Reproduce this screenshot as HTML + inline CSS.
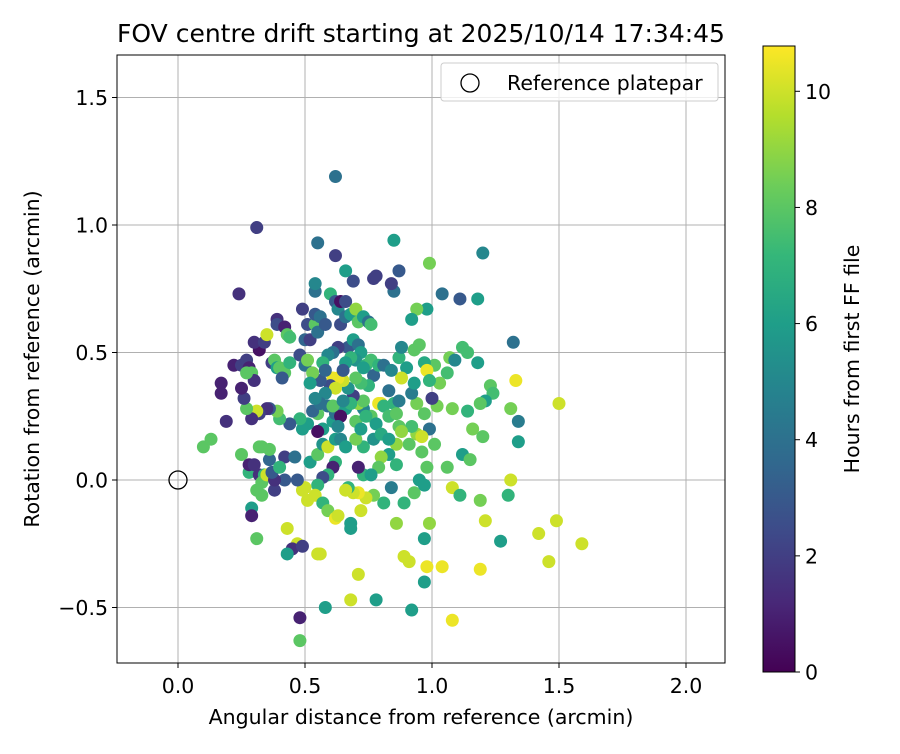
<!DOCTYPE html>
<html><head><meta charset="utf-8"><style>
body{margin:0;background:#fff;font-family:"DejaVu Sans","Liberation Sans",sans-serif}
</style></head><body>
<svg id="chart" width="900" height="750" xmlns="http://www.w3.org/2000/svg" font-family="DejaVu Sans, Liberation Sans, sans-serif">
<defs><linearGradient id="vir" x1="0" y1="1" x2="0" y2="0"></linearGradient></defs>
<text x="421" y="42" font-size="25" text-anchor="middle">FOV centre drift starting at 2025/10/14 17:34:45</text>
<g id="grid"></g>
<g id="pts"></g>
<rect x="117" y="55" width="608" height="608" fill="none" stroke="#000" stroke-width="1"/>
<g id="ticks"></g>
<text x="421" y="724" font-size="20.5" text-anchor="middle">Angular distance from reference (arcmin)</text>
<text transform="translate(39,359) rotate(-90)" font-size="20.5" text-anchor="middle">Rotation from reference (arcmin)</text>
<g>
<rect x="441" y="63" width="277" height="38" rx="3" fill="#fff" fill-opacity="0.8" stroke="#ccc"/>
<circle cx="470" cy="83" r="9" fill="none" stroke="#000" stroke-width="1.3"/>
<text x="507" y="90" font-size="20.5">Reference platepar</text>
</g>
<g id="cbar"></g>
<text transform="translate(859,359) rotate(-90)" font-size="20.5" text-anchor="middle">Hours from first FF file</text>
</svg>
<script>
const xTicks=[0,0.5,1.0,1.5,2.0];
const xTickLabels=["0.0","0.5","1.0","1.5","2.0"];
const yTicks=[-0.5,0,0.5,1.0,1.5];
const yTickLabels=["\u22120.5","0.0","0.5","1.0","1.5"];
const cTicks=[0,2,4,6,8,10];
const cTickLabels=["0","2","4","6","8","10"];
const refPoint=[0,0];
const xs=[0.62,0.31,0.24,0.55,0.62,0.69,0.66,0.77,0.78,0.85,0.87,0.85,0.84,0.99,1.20,1.04,1.11,1.18,0.98,0.94,0.92,1.32,1.12,1.14,1.18,1.23,1.24,1.21,1.19,1.31,1.34,1.33,1.50,1.34,1.12,1.15,1.20,1.16,1.14,1.08,1.06,1.07,1.09,1.01,1.03,1.02,1.00,0.99,1.01,1.06,1.08,1.11,1.19,1.21,1.31,1.30,1.27,1.42,1.49,1.46,1.59,1.19,1.08,1.04,0.98,0.99,0.97,0.97,0.92,0.91,0.89,0.86,0.89,0.93,0.95,0.97,0.98,0.96,0.94,0.92,0.94,0.92,0.93,0.90,0.88,0.87,0.88,0.93,0.95,0.97,0.98,0.99,0.97,0.96,0.91,0.86,0.83,0.80,0.79,0.86,0.84,0.81,0.77,0.74,0.71,0.69,0.67,0.66,0.73,0.76,0.71,0.73,0.70,0.62,0.61,0.59,0.57,0.55,0.54,0.50,0.49,0.51,0.47,0.42,0.42,0.46,0.52,0.55,0.57,0.59,0.62,0.64,0.57,0.59,0.62,0.63,0.68,0.68,0.72,0.71,0.68,0.58,0.55,0.56,0.47,0.45,0.43,0.43,0.48,0.48,0.49,0.78,0.80,0.79,0.76,0.73,0.71,0.73,0.69,0.67,0.65,0.63,0.61,0.60,0.62,0.58,0.59,0.61,0.62,0.61,0.55,0.57,0.55,0.53,0.51,0.49,0.48,0.44,0.40,0.39,0.36,0.35,0.32,0.31,0.29,0.27,0.26,0.19,0.17,0.17,0.22,0.25,0.27,0.28,0.29,0.30,0.32,0.30,0.34,0.35,0.39,0.39,0.42,0.43,0.44,0.37,0.38,0.39,0.40,0.42,0.41,0.44,0.48,0.50,0.51,0.50,0.52,0.51,0.49,0.54,0.54,0.54,0.54,0.56,0.55,0.58,0.60,0.62,0.63,0.64,0.64,0.66,0.66,0.68,0.70,0.71,0.73,0.75,0.76,0.67,0.69,0.71,0.72,0.70,0.68,0.66,0.65,0.63,0.61,0.59,0.57,0.56,0.58,0.56,0.53,0.52,0.54,0.74,0.76,0.77,0.79,0.81,0.84,0.83,0.85,0.87,0.81,0.83,0.86,0.87,0.88,0.75,0.72,0.70,0.73,0.66,0.68,0.70,0.72,0.74,0.78,0.77,0.80,0.83,0.65,0.64,0.63,0.66,0.10,0.13,0.25,0.28,0.29,0.29,0.31,0.33,0.31,0.33,0.32,0.32,0.34,0.33,0.35,0.28,0.27,0.25,0.30,0.36,0.36,0.38,0.38,0.37,0.40];
const ys=[1.19,0.99,0.73,0.93,0.88,0.78,0.82,0.79,0.80,0.94,0.82,0.74,0.77,0.85,0.89,0.73,0.71,0.71,0.67,0.67,0.63,0.54,0.52,0.50,0.46,0.37,0.34,0.31,0.30,0.28,0.23,0.39,0.30,0.15,0.10,0.08,0.17,0.20,0.27,0.28,0.42,0.48,0.47,0.45,0.38,0.29,0.32,0.20,0.14,0.05,-0.03,-0.06,-0.08,-0.16,0.00,-0.06,-0.24,-0.21,-0.16,-0.32,-0.25,-0.35,-0.55,-0.34,-0.34,-0.17,-0.23,-0.40,-0.51,-0.32,-0.30,-0.17,-0.09,-0.05,0.00,-0.02,0.05,0.11,0.18,0.21,0.30,0.34,0.38,0.44,0.40,0.48,0.52,0.51,0.53,0.46,0.43,0.39,0.26,0.17,0.14,0.14,0.10,0.09,0.05,0.06,-0.03,-0.09,-0.06,-0.07,-0.05,-0.05,-0.03,-0.04,0.02,0.02,0.05,0.13,0.16,0.07,0.05,0.02,0.01,-0.02,-0.06,-0.03,-0.04,-0.08,0.00,0.00,0.09,0.09,0.07,0.10,0.14,0.13,0.16,0.16,-0.09,-0.12,-0.15,-0.14,-0.17,-0.19,-0.12,-0.37,-0.47,-0.50,-0.29,-0.29,-0.25,-0.27,-0.29,-0.19,-0.54,-0.63,-0.26,-0.47,0.30,0.30,0.25,0.28,0.30,0.31,0.33,0.36,0.39,0.40,0.40,0.37,0.36,0.34,0.29,0.23,0.26,0.29,0.26,0.20,0.19,0.27,0.22,0.20,0.24,0.22,0.24,0.27,0.28,0.28,0.26,0.27,0.24,0.28,0.32,0.23,0.34,0.38,0.45,0.45,0.47,0.44,0.42,0.39,0.51,0.54,0.54,0.57,0.63,0.61,0.60,0.57,0.56,0.46,0.47,0.44,0.44,0.42,0.40,0.46,0.49,0.45,0.47,0.55,0.55,0.61,0.67,0.61,0.65,0.74,0.77,0.64,0.58,0.61,0.73,0.70,0.67,0.70,0.61,0.70,0.64,0.65,0.67,0.62,0.64,0.62,0.61,0.52,0.55,0.53,0.50,0.47,0.48,0.46,0.43,0.52,0.50,0.49,0.46,0.39,0.43,0.30,0.42,0.38,0.32,0.45,0.47,0.41,0.45,0.45,0.43,0.35,0.30,0.31,0.29,0.25,0.26,0.21,0.19,0.37,0.38,0.40,0.44,0.28,0.30,0.23,0.20,0.25,0.22,0.16,0.18,0.16,0.31,0.25,0.21,0.13,0.13,0.16,0.10,0.03,-0.11,-0.14,-0.04,-0.06,-0.23,0.13,0.13,0.02,0.02,-0.01,0.02,0.06,0.42,0.36,0.06,0.08,0.12,-0.04,0.00,0.03,0.05];
const hours=[4,2,1.5,4,2,2.5,6,2,2,6,3,4,2,8.5,5,4,3,6,6,8.5,6,4,7.5,7.5,6,8,7.5,6,8,8.5,4.5,10.5,10,6,6,8,8,8.5,7,8.5,7.5,8.5,5,8,8.5,8.5,2,4,8,8,10,7,8.5,10,10,7,6,10,10,10,10,10.5,10.5,10.5,10.5,9,6,6,6,10,10,9,7,8,6,6,8,8,9,7.5,8.5,4.5,6,6,10,7,5,8,8,6.5,10.5,7,8,10,8,9,6,9,8,7,4.5,7,8.5,10,10.5,10,7,10,7,6,1,7,8.5,7,1,7,2.5,7,10,10,10,10,3,3,2,4,6,8,5.5,10,6,5,7,8.5,10.5,10,6,6,10,10,10,6,10,10,10,1.5,6,10,1,8,2,6,10.5,10.5,8,5,9,8,2,5.5,10,10.5,10.5,2.5,10,5,4,6,4,8,8,6,0.5,3.5,6,6,7,3,7.5,8.5,3,1.5,2,10,1.5,8,2,1.5,1,1,1,2,2,1,8,1.5,0.5,1.5,2,10,1.5,2.5,1,8,7.5,2,8,6,8,8,3,7,2.5,4,8.5,3.5,2,2.5,2,8,3,4,5,4,4,3,7,3,5,0.5,2.5,2.5,4,6,9,8,6,4,7.5,3,6,4,6,5.5,7,6,3,2,4,5,7,3,3.5,4,8.5,6,5,7,7.5,3.5,7,4,5,4,7,4.5,7,7.5,8,8,9,7,7.5,8,6,6,7,8,6,7,6,5.5,6.5,6,5,0.5,5,6,8,8,8,7,6,1,8,8,8,8,8,1.5,7,8,10,1,8,1,1.5,3.5,8,2,1.5,3,7];
const X0=178,XS=254,Y0=480,YS=255;
function sx(v){return X0+v*XS}
function sy(v){return Y0-v*YS}
const CB_T=46,CB_B=672,CMAX=10.78;
function cy(v){return CB_B-(v/CMAX)*(CB_B-CB_T)}
const vstops=[[68,1,84],[72,40,120],[62,74,137],[49,104,142],[38,130,142],[31,158,137],[53,183,121],[109,205,89],[180,222,44],[253,231,37]];
function vir(t){t=Math.max(0,Math.min(1,t));const p=t*(vstops.length-1),i=Math.min(Math.floor(p),vstops.length-2),f=p-i;const a=vstops[i],b=vstops[i+1];return `rgb(${Math.round(a[0]+(b[0]-a[0])*f)},${Math.round(a[1]+(b[1]-a[1])*f)},${Math.round(a[2]+(b[2]-a[2])*f)})`}
const NS="http://www.w3.org/2000/svg";
function mk(t,at,par){const e=document.createElementNS(NS,t);for(const k in at)e.setAttribute(k,at[k]);par.appendChild(e);return e}
const grid=document.getElementById('grid'),ticks=document.getElementById('ticks'),pts=document.getElementById('pts'),cbar=document.getElementById('cbar');
xTicks.forEach((v,i)=>{
 const g=mk('line',{x1:sx(v),x2:sx(v),y1:55,y2:663,stroke:'#b0b0b0','stroke-width':1},grid);
 
 
 mk('line',{x1:sx(v),x2:sx(v),y1:663,y2:668,stroke:'#000'},ticks);
 const t=mk('text',{x:sx(v),y:693,'font-size':20.5,'text-anchor':'middle'},ticks);t.textContent=xTickLabels[i];
 
 
});
yTicks.forEach((v,i)=>{
 const g=mk('line',{x1:117,x2:725,y1:sy(v),y2:sy(v),stroke:'#b0b0b0','stroke-width':1},grid);
 
 
 mk('line',{x1:112,x2:117,y1:sy(v),y2:sy(v),stroke:'#000'},ticks);
 const t=mk('text',{x:108,y:sy(v)+7.5,'font-size':20.5,'text-anchor':'end'},ticks);t.textContent=yTickLabels[i];
 
 
});
xs.forEach((x,i)=>{
 const c=mk('circle',{cx:sx(x),cy:sy(ys[i]),r:6.5,fill:vir(hours[i]/CMAX)},pts);
 
 
});
const rp=mk('circle',{cx:sx(refPoint[0]),cy:sy(refPoint[1]),r:9,fill:'none',stroke:'#000','stroke-width':1.3},pts);


const grad=document.getElementById('vir');
vstops.forEach((s,i)=>mk('stop',{offset:i/(vstops.length-1),'stop-color':`rgb(${s[0]},${s[1]},${s[2]})`},grad));
const cb=mk('rect',{x:763,y:CB_T,width:32,height:CB_B-CB_T,fill:'url(#vir)',stroke:'#000'},cbar);


cTicks.forEach((v,i)=>{
 mk('line',{x1:795,x2:800,y1:cy(v),y2:cy(v),stroke:'#000'},cbar);
 const t=mk('text',{x:805,y:cy(v)+7.5,'font-size':20.5},cbar);t.textContent=cTickLabels[i];
 
 
});
</script>
</body></html>
